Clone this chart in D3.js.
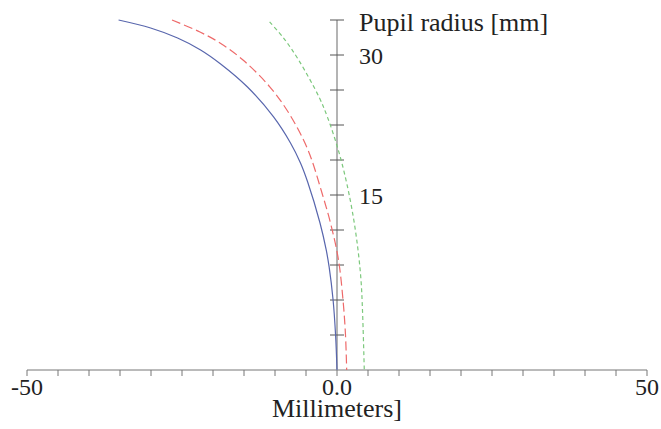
<!DOCTYPE html>
<html>
<head>
<meta charset="utf-8">
<script src="https://cdn.jsdelivr.net/npm/d3@7"></script>
<style>
  html, body { margin: 0; padding: 0; background: #fff; }
</style>
</head>
<body>
<svg id="chart"></svg>
<script>
// values (x: millimeters, y: pupil radius mm)
const blueX = [-35.23, -30.06, -25.71, -22.0, -18.77, -14.44, -10.23, -7.5, -5.89, -4.73, -2.74, -1.74, -1.27, -0.63, -0.23, 0];
const blueY = [33.75, 32.89, 31.82, 30.54, 29.04, 26.57, 23.36, 20.57, 18.43, 16.39, 12.0, 9.11, 7.29, 3.75, 0, -3.75];
const redX = [-26.61, -22.1, -18.87, -15.16, -10.81, -7.58, -4.68, -2.42, -0.97, 0.24, 0.97, 1.37, 1.56];
const redY = [33.75, 32.46, 31.29, 29.46, 26.57, 23.57, 19.82, 15.21, 11.79, 8.04, 3.75, 0, -3.75];
const greenX = [-10.87, -8.61, -6.19, -2.9, -1.55, 0.21, 1.56, 2.63, 3.39, 3.87, 4.11, 4.4];
const greenY = [33.54, 31.82, 29.46, 25.5, 23.36, 19.82, 16.29, 12.64, 9.11, 5.89, 2.68, -3.75];

const xTickLabels = [{ v: -50, t: "-50" }, { v: 0, t: "0.0" }, { v: 50, t: "50" }];
const yTickLabels = [{ v: 30, t: "30" }, { v: 15, t: "15" }];
const xTitle = "Millimeters]";
const yTitle = "Pupil radius [mm]";

const width = 661, height = 429;
const font = "'Liberation Serif', 'Times New Roman', 'DejaVu Serif', serif";
const svg = d3.select("#chart").attr("width", width).attr("height", height);

const x = d3.scaleLinear([-50, 50], [27, 647]);
const y = d3.scaleLinear([-3.75, 33.75], [370, 20]);

// x axis
const xAxis = svg.append("g");
xAxis.append("line")
  .attr("x1", x(-50)).attr("x2", x(50))
  .attr("y1", y(-3.75)).attr("y2", y(-3.75))
  .attr("stroke", "#777").attr("stroke-width", 1);
xAxis.selectAll("line.tick")
  .data(d3.range(-50, 50.1, 5))
  .join("line")
  .attr("class", "tick")
  .attr("x1", d => x(d)).attr("x2", d => x(d))
  .attr("y1", y(-3.75)).attr("y2", y(-3.75) + 6)
  .attr("stroke", "#777").attr("stroke-width", 1);
xAxis.selectAll("text")
  .data(xTickLabels)
  .join("text")
  .attr("x", d => x(d.v)).attr("y", 395)
  .attr("text-anchor", "middle")
  .attr("font-family", font)
  .attr("font-size", 24)
  .attr("fill", "#222")
  .text(d => d.t);
svg.append("text")
  .attr("x", x(0)).attr("y", 417)
  .attr("text-anchor", "middle")
  .attr("font-family", font)
  .attr("font-size", 26)
  .attr("fill", "#222")
  .text(xTitle);

// y axis
const yAxis = svg.append("g");
yAxis.append("line")
  .attr("x1", x(0)).attr("x2", x(0))
  .attr("y1", y(-3.75)).attr("y2", y(33.75))
  .attr("stroke", "#b4b4b4").attr("stroke-width", 2);
yAxis.selectAll("line.tick")
  .data(d3.range(-3.75, 33.76, 3.75).slice(1))
  .join("line")
  .attr("class", "tick")
  .attr("x1", x(0) - 7).attr("x2", x(0) + 7)
  .attr("y1", d => y(d)).attr("y2", d => y(d))
  .attr("stroke", "#555").attr("stroke-width", 1);
yAxis.selectAll("text")
  .data(yTickLabels)
  .join("text")
  .attr("x", 359).attr("y", d => y(d.v) + 9)
  .attr("font-family", font)
  .attr("font-size", 24)
  .attr("fill", "#222")
  .text(d => d.t);
svg.append("text")
  .attr("x", 359).attr("y", 31)
  .attr("font-family", font)
  .attr("font-size", 26)
  .attr("fill", "#222")
  .text(yTitle);

// curves
const line = d3.line()
  .x(d => x(d[0])).y(d => y(d[1]))
  .curve(d3.curveCatmullRom.alpha(0.5));

const series = [
  { xs: blueX, ys: blueY, color: "#5866ad", dash: null },
  { xs: redX, ys: redY, color: "#ee6a6a", dash: "9,4" },
  { xs: greenX, ys: greenY, color: "#7cc87c", dash: "4,3" }
];

svg.append("g")
  .selectAll("path")
  .data(series)
  .join("path")
  .attr("d", s => line(s.xs.map((v, i) => [v, s.ys[i]])))
  .attr("fill", "none")
  .attr("stroke", s => s.color)
  .attr("stroke-width", 1.2)
  .attr("stroke-dasharray", s => s.dash);
</script>
</body>
</html>
